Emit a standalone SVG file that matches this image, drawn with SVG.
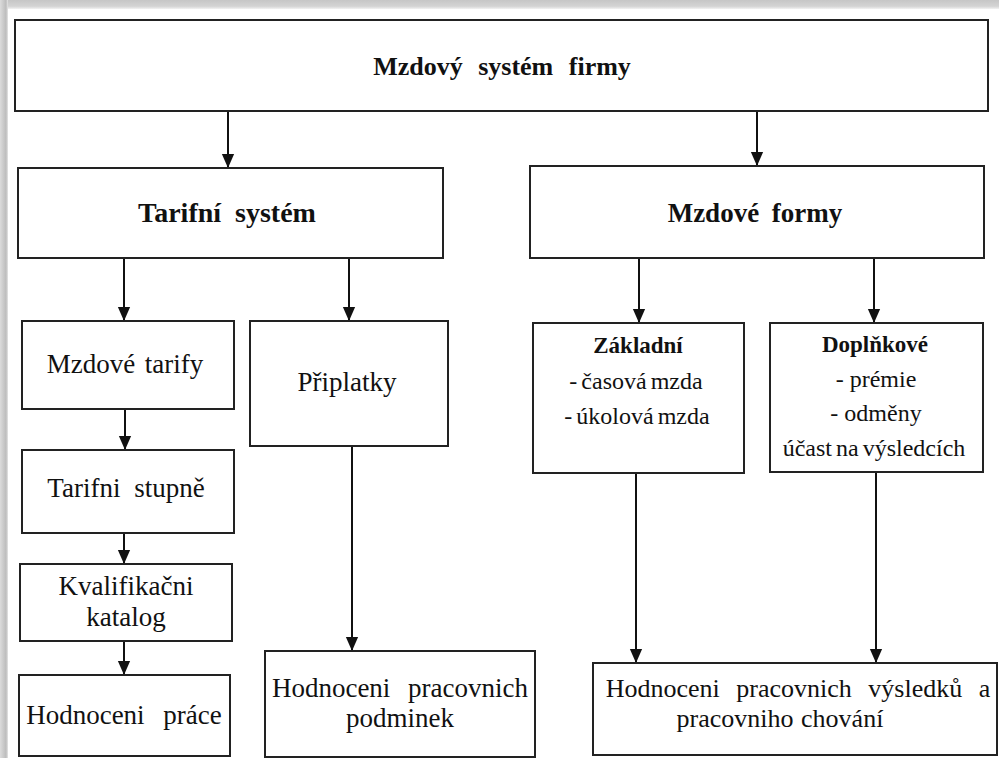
<svg xmlns="http://www.w3.org/2000/svg" width="999" height="758" viewBox="0 0 999 758">
  <defs>
    <linearGradient id="shadeTop" x1="0" y1="0" x2="0" y2="1">
      <stop offset="0" stop-color="#c6c6c6"/>
      <stop offset="0.7" stop-color="#d4d4d4"/>
      <stop offset="1" stop-color="#f2f2f2"/>
    </linearGradient>
    <linearGradient id="shadeLeft" x1="0" y1="0" x2="1" y2="0">
      <stop offset="0" stop-color="#dcdcdc"/>
      <stop offset="0.75" stop-color="#bcbcbc"/>
      <stop offset="1" stop-color="#e6e6e6"/>
    </linearGradient>
    <marker id="arrow" markerUnits="userSpaceOnUse" markerWidth="14" markerHeight="16" refX="16" refY="7" orient="auto" viewBox="0 0 16 14">
      <path d="M0,0 L16,7 L0,14 Z" fill="#111"/>
    </marker>
  </defs>
  <style>
    .box { fill: #fff; stroke: #222; stroke-width: 2; }
    .conn { stroke: #111; stroke-width: 2; fill: none; }
    .head { font-weight: bold; font-size: 26px; fill: #111; text-anchor: middle; }
    .lbl { font-size: 27px; fill: #111; text-anchor: middle; }
    .sm { font-size: 24px; fill: #111; text-anchor: middle; }
    .smb { font-size: 23px; font-weight: bold; fill: #111; text-anchor: middle; }
  </style>

  <!-- page background with soft edge shading -->
  <rect x="0" y="0" width="999" height="758" fill="#fff"/>
  <rect x="0" y="0" width="999" height="9" fill="url(#shadeTop)"/>
  <rect x="0" y="0" width="8" height="758" fill="url(#shadeLeft)"/>

  <!-- connectors -->
  <g id="connectors">
    <line class="conn" x1="228" y1="111" x2="228" y2="168" marker-end="url(#arrow)"/>
    <line class="conn" x1="757" y1="111" x2="757" y2="166" marker-end="url(#arrow)"/>
    <line class="conn" x1="124" y1="258" x2="124" y2="321" marker-end="url(#arrow)"/>
    <line class="conn" x1="349" y1="258" x2="349" y2="321" marker-end="url(#arrow)"/>
    <line class="conn" x1="125" y1="409" x2="125" y2="450" marker-end="url(#arrow)"/>
    <line class="conn" x1="124" y1="533" x2="124" y2="564" marker-end="url(#arrow)"/>
    <line class="conn" x1="124" y1="641" x2="124" y2="675" marker-end="url(#arrow)"/>
    <line class="conn" x1="352" y1="446" x2="352" y2="651" marker-end="url(#arrow)"/>
    <line class="conn" x1="639" y1="258" x2="639" y2="323" marker-end="url(#arrow)"/>
    <line class="conn" x1="874" y1="258" x2="874" y2="323" marker-end="url(#arrow)"/>
    <line class="conn" x1="636" y1="473" x2="636" y2="663" marker-end="url(#arrow)"/>
    <line class="conn" x1="876" y1="472" x2="876" y2="663" marker-end="url(#arrow)"/>
  </g>

  <g id="nodes" font-family="'Liberation Serif', 'Times New Roman', serif">
  <g id="mzdovy-system">
    <rect class="box" x="15" y="20" width="973" height="91"/>
    <text class="head" x="502" y="75" word-spacing="9">Mzdový systém firmy</text>
  </g>

  <g id="tarifni-system">
    <rect class="box" x="18" y="168" width="425" height="90"/>
    <text class="head" x="227" y="222" style="font-size:28px" word-spacing="7">Tarifní systém</text>
  </g>

  <g id="mzdove-formy">
    <rect class="box" x="530" y="166" width="454" height="92"/>
    <text class="head" x="755" y="222" style="font-size:27px" word-spacing="6">Mzdové formy</text>
  </g>

  <g id="mzdove-tarify">
    <rect class="box" x="22" y="321" width="212" height="88"/>
    <text class="lbl" x="125" y="373" word-spacing="3">Mzdové tarify</text>
  </g>

  <g id="tarifni-stupne">
    <rect class="box" x="22" y="450" width="212" height="83"/>
    <text class="lbl" x="126" y="497" word-spacing="7">Tarifni stupně</text>
  </g>

  <g id="kvalifikacni-katalog">
    <rect class="box" x="20" y="564" width="212" height="77"/>
    <text class="lbl" x="126" y="595">Kvalifikačni</text>
    <text class="lbl" x="126" y="626">katalog</text>
  </g>

  <g id="hodnoceni-prace">
    <rect class="box" x="19" y="675" width="211" height="81"/>
    <text class="lbl" x="124" y="724" word-spacing="12">Hodnoceni práce</text>
  </g>

  <g id="priplatky">
    <rect class="box" x="250" y="321" width="198" height="125"/>
    <text class="lbl" x="347" y="391">Připlatky</text>
  </g>

  <g id="hodnoceni-podminek">
    <rect class="box" x="265" y="651" width="270" height="106"/>
    <text class="lbl" x="400" y="697" word-spacing="11">Hodnoceni pracovnich</text>
    <text class="lbl" x="400" y="727">podminek</text>
  </g>

  <g id="zakladni">
    <rect class="box" x="533" y="323" width="211" height="150"/>
    <text class="smb" x="638" y="353">Základní</text>
    <text class="sm" x="636" y="389" word-spacing="-2">- časová mzda</text>
    <text class="sm" x="637" y="424" word-spacing="-2">- úkolová mzda</text>
  </g>

  <g id="doplnkove">
    <rect class="box" x="770" y="323" width="213" height="149"/>
    <text class="smb" x="875" y="352">Doplňkové</text>
    <text class="sm" x="876" y="387">- prémie</text>
    <text class="sm" x="876" y="421">- odměny</text>
    <text class="sm" x="874" y="456" word-spacing="-2">účast na výsledcích</text>
  </g>

  <g id="hodnoceni-vysledku">
    <rect class="box" x="593" y="663" width="404" height="92"/>
    <text class="lbl" x="798" y="697" style="font-size:26px" word-spacing="10">Hodnoceni pracovnich výsledků a</text>
    <text class="lbl" x="780" y="727" style="font-size:26px" word-spacing="1">pracovniho chování</text>
  </g>
  </g>
</svg>
